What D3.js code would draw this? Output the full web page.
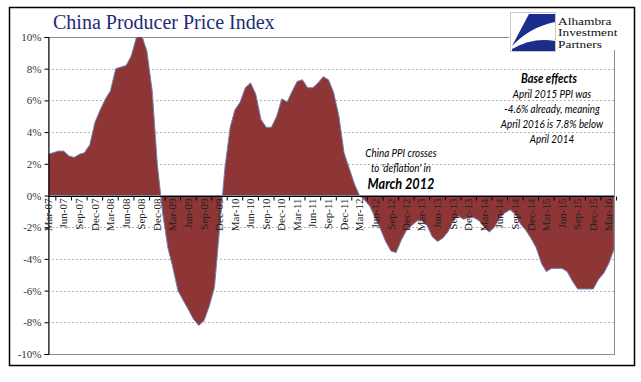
<!DOCTYPE html>
<html>
<head>
<meta charset="utf-8">
<script src="https://cdn.jsdelivr.net/npm/d3@7"></script>
<style>
  body { margin: 0; background: #fff; }
  svg { display: block; }
</style>
</head>
<body>
<script>
// Dados (PPI China, variação anual %, mensal de Mar-07 a Abr-16)
const firstMonth = new Date(2007, 2, 1);
const lastMonth = new Date(2016, 3, 1);

const ppi = [
  2.6, 2.7, 2.8, 2.8, 2.5, 2.4, 2.6, 2.7, 3.2, 4.6,
  5.4, 6.1, 6.6, 8.0, 8.1, 8.2, 8.8, 10.0, 10.1, 9.1, 6.6, 2.0,
  -1.1, -3.3, -4.5, -6.0, -6.6, -7.2, -7.8, -8.2, -7.9, -7.0, -5.8, -2.1,
  1.7, 4.3, 5.4, 5.9, 6.8, 7.1, 6.4, 4.8, 4.3, 4.3, 5.0, 6.1,
  5.9, 6.6, 7.2, 7.3, 6.8, 6.8, 7.1, 7.5, 7.3, 6.5, 5.0, 2.7,
  1.7, 0.7, 0.0, -0.3, -0.7, -1.4, -2.1, -2.9, -3.5, -3.6, -2.8, -2.2,
  -1.9, -1.6, -1.6, -1.9, -2.6, -2.9, -2.7, -2.3, -1.6, -1.3, -1.5, -1.4,
  -1.4, -1.6, -2.0, -2.3, -2.0, -1.4, -1.1, -0.9, -1.2, -1.8, -2.2, -2.7,
  -3.3, -4.3, -4.8, -4.6, -4.6, -4.6, -4.8, -5.4, -5.9, -5.9, -5.9, -5.9,
  -5.3, -4.9, -4.3, -3.4
];

const tickLabels = [
  "Mar-07", "Jun-07", "Sep-07", "Dec-07", "Mar-08", "Jun-08", "Sep-08", "Dec-08",
  "Mar-09", "Jun-09", "Sep-09", "Dec-09", "Mar-10", "Jun-10", "Sep-10", "Dec-10",
  "Mar-11", "Jun-11", "Sep-11", "Dec-11", "Mar-12", "Jun-12", "Sep-12", "Dec-12",
  "Mar-13", "Jun-13", "Sep-13", "Dec-13", "Mar-14", "Jun-14", "Sep-14", "Dec-14",
  "Mar-15", "Jun-15", "Sep-15", "Dec-15", "Mar-16"
];

const yTicks = [10, 8, 6, 4, 2, 0, -2, -4, -6, -8, -10];

const noteBase = ["April 2015 PPI was", "-4.6% already, meaning", "April 2016 is 7.8% below", "April 2014"];
const noteCross = ["China PPI crosses", "to 'deflation' in"];

// Configurações do SVG
const svgWidth = 641, svgHeight = 382;
const plot = { left: 48, right: 614, top: 37, bottom: 354 };

const svg = d3.select('body').append('svg')
  .attr('width', svgWidth)
  .attr('height', svgHeight);

// Moldura externa
svg.append('rect')
  .attr('x', 9.5).attr('y', 7.5)
  .attr('width', 625).attr('height', 358)
  .attr('fill', '#fff')
  .attr('stroke', '#000')
  .attr('stroke-width', 1.5);

const months = d3.timeMonth.range(firstMonth, d3.timeMonth.offset(lastMonth, 1));
const data = months.map((d, i) => ({ date: d, value: ppi[i] }));

// Escalas
const x = d3.scaleTime()
  .domain([firstMonth, lastMonth])
  .range([plot.left, plot.right]);

const y = d3.scaleLinear()
  .domain([-10, 10])
  .range([plot.bottom, plot.top]);

// Linhas de grade
svg.append('g')
  .selectAll('line')
  .data(yTicks.filter(d => d !== 0 && d !== 10 && d !== -10))
  .enter().append('line')
  .attr('x1', plot.left).attr('x2', plot.right)
  .attr('y1', d => Math.round(y(d)) + 0.5)
  .attr('y2', d => Math.round(y(d)) + 0.5)
  .attr('stroke', '#b4b4b4')
  .attr('stroke-dasharray', '2,2');

// Borda da área do gráfico
svg.append('rect')
  .attr('x', plot.left + 0.5).attr('y', plot.top + 0.5)
  .attr('width', plot.right - plot.left).attr('height', plot.bottom - plot.top)
  .attr('fill', 'none')
  .attr('stroke', '#8c8c8c');

svg.append('clipPath').attr('id', 'clip')
  .append('rect')
  .attr('x', plot.left).attr('y', plot.top)
  .attr('width', plot.right - plot.left).attr('height', plot.bottom - plot.top);

// Área
const area = d3.area()
  .x(d => x(d.date))
  .y0(y(0))
  .y1(d => y(d.value));

svg.append('path')
  .datum(data)
  .attr('clip-path', 'url(#clip)')
  .attr('d', area)
  .attr('fill', '#8e3535')
  .attr('stroke', '#7584b4')
  .attr('stroke-width', 1);

// Eixo Y
const yAxis = svg.append('g')
  .attr('transform', `translate(${plot.left + 0.5},0)`)
  .call(d3.axisLeft(y).tickValues(yTicks).tickSize(4).tickFormat(d => d + '%'));
yAxis.select('.domain').attr('stroke', '#000');
yAxis.selectAll('text')
  .attr('font-family', '"Liberation Serif", "Times New Roman", serif')
  .attr('font-size', 11)
  .attr('fill', '#333')
  .attr('x', -7);

// Eixo X (linha do zero)
const parseLabel = d3.timeParse('%b-%y');
const tickDates = tickLabels.map(parseLabel);
const y0 = Math.round(y(0)) + 0.5;

svg.append('line')
  .attr('x1', plot.left).attr('x2', plot.right)
  .attr('y1', y0).attr('y2', y0)
  .attr('stroke', '#000');

svg.append('g')
  .selectAll('line')
  .data(tickDates)
  .enter().append('line')
  .attr('x1', d => (x(d) + x(d3.timeMonth.offset(d, 3))) / 2)
  .attr('x2', d => (x(d) + x(d3.timeMonth.offset(d, 3))) / 2)
  .attr('y1', y0).attr('y2', y0 + 4)
  .attr('stroke', '#000');

svg.append('g')
  .selectAll('text')
  .data(tickLabels)
  .enter().append('text')
  .attr('transform', (d, i) => `translate(${x(tickDates[i])},${y0 + 2}) rotate(-90)`)
  .attr('dy', '0.33em')
  .attr('text-anchor', 'end')
  .attr('font-family', '"Liberation Serif", "Times New Roman", serif')
  .attr('font-size', 11)
  .attr('fill', '#222')
  .text(d => d);

// Título
svg.append('text')
  .attr('x', 53).attr('y', 29)
  .attr('font-family', '"Liberation Serif", "Times New Roman", serif')
  .attr('font-size', 20)
  .attr('fill', '#1d2b78')
  .text('China Producer Price Index');

// Logotipo
const logo = svg.append('g');
logo.append('rect')
  .attr('x', 509).attr('y', 9)
  .attr('width', 123).attr('height', 41)
  .attr('fill', '#fff');
logo.append('rect')
  .attr('x', 510.5).attr('y', 12.5)
  .attr('width', 45).attr('height', 39)
  .attr('fill', '#fff')
  .attr('stroke', '#c8c8c8');
logo.append('path')
  .attr('d', 'M529,14 L555,14 L555,22 Q530,27 512,46 Z')
  .attr('fill', '#1b2c8c');
logo.append('path')
  .attr('d', 'M512,49 Q533,37 555,41 L555,51 L512,51 Z')
  .attr('fill', '#1b2c8c');
logo.selectAll('text.logo')
  .data(['Alhambra', 'Investment', 'Partners'])
  .enter().append('text')
  .attr('transform', (d, i) => `translate(558,${24.5 + i * 11.5}) scale(1.3,1)`)
  .attr('font-family', '"Liberation Serif", "Times New Roman", serif')
  .attr('font-size', 10.3)
  .attr('fill', '#111')
  .text(d => d);

// Anotações
const noteFont = 'Lato, "Liberation Sans", sans-serif';

function note(txt, cx, cy, size, bold) {
  svg.append('text')
    .attr('transform', `translate(${cx},${cy}) scale(0.82,1)`)
    .attr('text-anchor', 'middle')
    .attr('font-family', noteFont)
    .attr('font-style', 'italic')
    .attr('font-weight', bold ? 'bold' : 'normal')
    .attr('font-size', size)
    .attr('fill', '#000')
    .text(txt);
}

note('Base effects', 549, 83, 13.5, true);
noteBase.forEach((t, i) => note(t, 552, 98 + i * 15, 12, false));

noteCross.forEach((t, i) => note(t, 401, 157 + i * 15, 12, false));
note('March 2012', 401, 189, 15.5, true);
</script>
</body>
</html>
